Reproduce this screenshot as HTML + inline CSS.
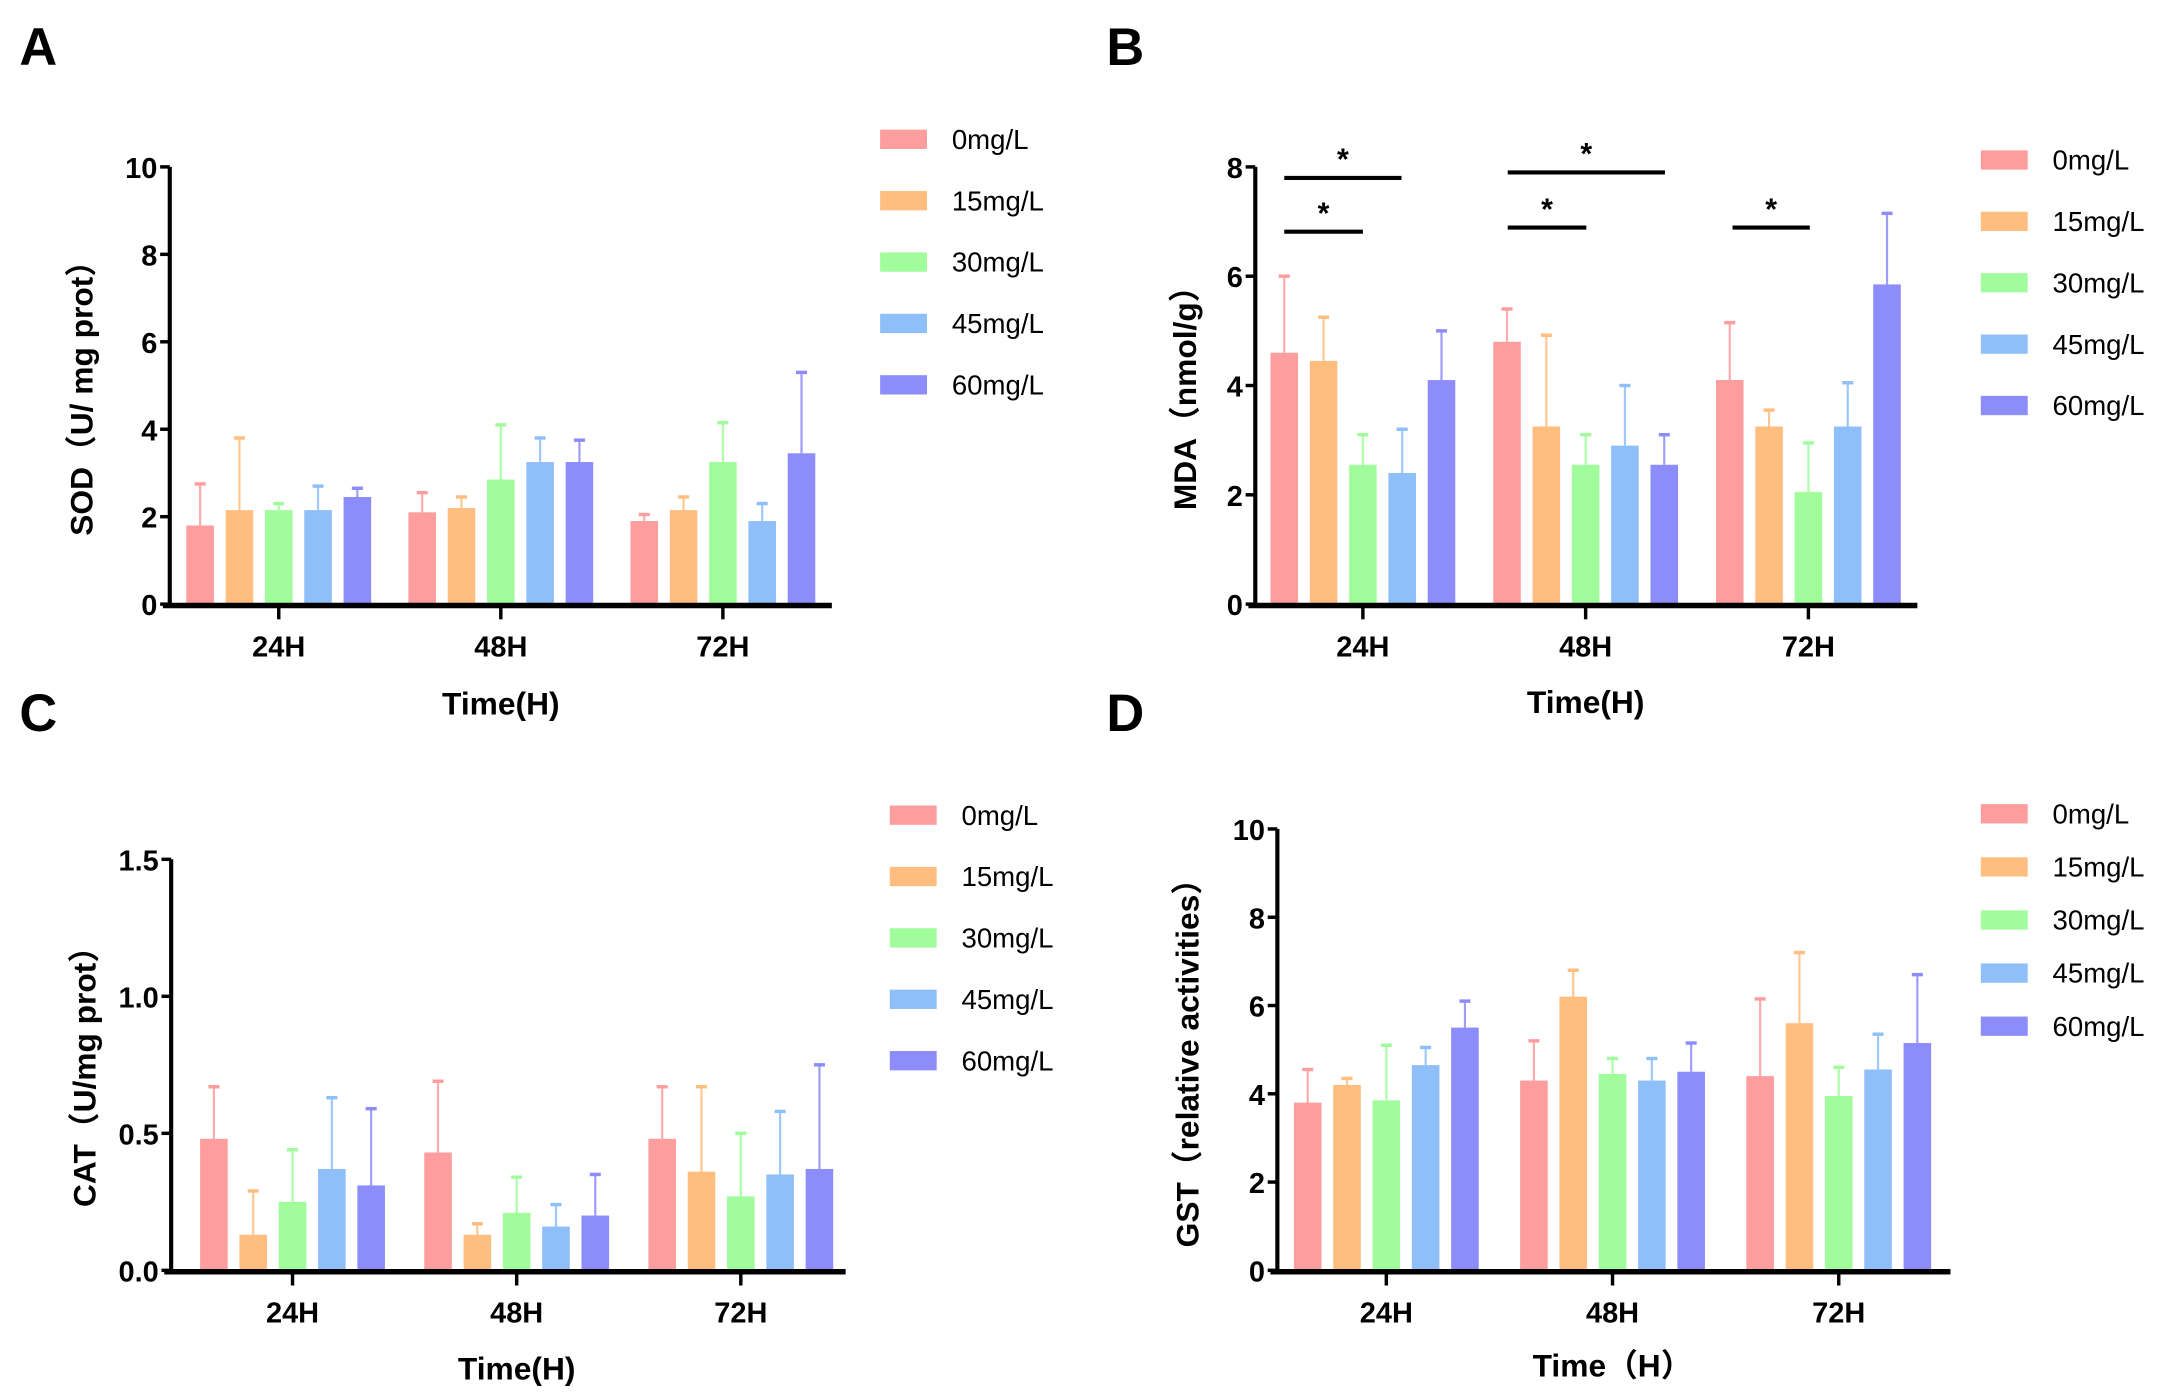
<!DOCTYPE html>
<html><head><meta charset="utf-8"><style>
html,body{margin:0;padding:0;background:#fff;}
svg{display:block;}
text{font-family:"Liberation Sans","Noto Sans CJK SC",sans-serif;}
.tk{font-size:21px;font-weight:bold;}
.lg{font-size:20px;}
.yl{font-family:"Liberation Sans","Noto Sans CJK SC",sans-serif;font-size:23px;font-weight:bold;}
.xt{font-size:23px;font-weight:bold;}
.pl{font-family:"Liberation Sans",sans-serif;font-size:38px;font-weight:bold;}
</style></head><body>
<svg id="fig" width="2163" height="1400" viewBox="0 0 1568 1015" xmlns="http://www.w3.org/2000/svg"></svg>
<script>
const categories = ["24H","48H","72H"];
const seriesNames = ["0mg/L","15mg/L","30mg/L","45mg/L","60mg/L"];
const colors = ["#fd9d9d","#ffbe80","#a1fd9c","#8fbff8","#8c8cfa"];
// SOD values [series][category]
const sodMean = [[1.8,2.1,1.9],[2.15,2.2,2.15],[2.15,2.85,3.25],[2.15,3.25,1.9],[2.45,3.25,3.45]];
const sodTop  = [[2.75,2.55,2.05],[3.8,2.45,2.45],[2.3,4.1,4.15],[2.7,3.8,2.3],[2.65,3.75,5.3]];
const sodTicks = [0,2,4,6,8,10];
// MDA
const mdaMean = [[4.6,4.8,4.1],[4.45,3.25,3.25],[2.55,2.55,2.05],[2.4,2.9,3.25],[4.1,2.55,5.85]];
const mdaTop  = [[6.0,5.4,5.15],[5.25,4.92,3.55],[3.1,3.1,2.95],[3.2,4.0,4.05],[5.0,3.1,7.15]];
const mdaTicks = [0,2,4,6,8];
// CAT
const catMean = [[0.48,0.43,0.48],[0.13,0.13,0.36],[0.25,0.21,0.27],[0.37,0.16,0.35],[0.31,0.20,0.37]];
const catTop  = [[0.67,0.69,0.67],[0.29,0.17,0.67],[0.44,0.34,0.50],[0.63,0.24,0.58],[0.59,0.35,0.75]];
const catTicks = ["0.0","0.5","1.0","1.5"];
// GST
const gstMean = [[3.8,4.3,4.4],[4.2,6.2,5.6],[3.85,4.45,3.95],[4.65,4.3,4.55],[5.5,4.5,5.15]];
const gstTop  = [[4.55,5.2,6.15],[4.35,6.8,7.2],[5.1,4.8,4.6],[5.05,4.8,5.35],[6.1,5.15,6.7]];
const gstTicks = [0,2,4,6,8,10];

const NS="http://www.w3.org/2000/svg";
const svg=document.getElementById('fig');
function mk(tag,attrs,parent,txt){const e=document.createElementNS(NS,tag);for(const k in attrs)e.setAttribute(k,attrs[k]);if(txt!==undefined)e.textContent=txt;(parent||svg).appendChild(e);return e;}

function panel(o){
  const g=mk('g',{});
  
  
  const ys=v=>o.y0-(v-o.ymin)/(o.ymax-o.ymin)*(o.y0-o.ytop);
  const gx=i=>o.gx0+i*o.gstep;
  const offs=[-57,-28.5,0,28.5,57], bw=20;
  for(let s=0;s<5;s++){for(let c=0;c<3;c++){
    const x=gx(c)+offs[s], v=o.mean[s][c], t=o.top[s][c];
    const eb=mk('line',{x1:x,x2:x,y1:ys(v),y2:ys(t),stroke:colors[s],'stroke-width':1.6,opacity:0.85},g);
    
    
    const cap=mk('line',{x1:x-4,x2:x+4,y1:ys(t),y2:ys(t),stroke:colors[s],'stroke-width':2.5},g);
    
    
    const r=mk('rect',{x:x-bw/2,y:ys(v),width:bw,height:o.y0-ys(v),fill:colors[s]},g);
    
    
  }}
  const ya=mk('line',{x1:o.ax,x2:o.ax,y1:o.ytop,y2:o.y0+2,stroke:'#000','stroke-width':3},g);
  
  
  const xa=mk('line',{x1:o.ax-5,x2:o.xend,y1:o.y0+1,y2:o.y0+1,stroke:'#000','stroke-width':4},g);
  
  
  o.ticks.forEach(t=>{const y=ys(parseFloat(t));
    mk('line',{x1:o.ax-7,x2:o.ax,y1:y,y2:y,stroke:'#000','stroke-width':2.5},g);
    const tl=mk('text',{x:o.ax-9,y:y+8,'text-anchor':'end',class:'tk'},g,String(t));
    
    
  });
  categories.forEach((c,i)=>{
    mk('line',{x1:gx(i),x2:gx(i),y1:o.y0,y2:o.y0+11,stroke:'#000','stroke-width':2.5},g);
    const tl=mk('text',{x:gx(i),y:o.y0+38,'text-anchor':'middle',class:'tk'},g,c);
    
    
  });
  const xt=mk('text',{x:gx(1),y:o.xty,'text-anchor':'middle',class:'xt'},g,o.xtitle);
  
  
  const yl=mk('text',{x:0,y:0,'text-anchor':'middle',class:'yl',transform:`translate(${o.ylx},${o.yly}) rotate(-90)`},g,o.ylabel);
  
  
  seriesNames.forEach((n,i)=>{
    const y=o.ly0+i*o.lstep;
    const sw=mk('rect',{x:o.lx,y:y-7,width:34,height:14,fill:colors[i]},g);
    
    
    const lt=mk('text',{x:o.lx+52,y:y+7,class:'lg'},g,n);
    
    
  });
  const pl=mk('text',{x:o.px,y:o.py,class:'pl'},g,o.letter);
  
  
  return g;
}
panel({name:'panel-a-sod',letter:'A',px:14,py:47,mean:sodMean,top:sodTop,ticks:sodTicks,ymin:0,ymax:10,y0:438,ytop:121,ax:123,xend:603,gx0:202,gstep:161,xtitle:'Time(H)',xty:518,ylabel:'SOD（U/ mg prot）',ylx:67,yly:283,lx:638,ly0:101,lstep:44.5});
const gB=panel({name:'panel-b-mda',letter:'B',px:802,py:47,mean:mdaMean,top:mdaTop,ticks:mdaTicks,ymin:0,ymax:8,y0:438,ytop:121,ax:910,xend:1390,gx0:988,gstep:161.5,xtitle:'Time(H)',xty:517,ylabel:'MDA（nmol/g）',ylx:867,yly:283,lx:1436,ly0:116,lstep:44.5});
panel({name:'panel-c-cat',letter:'C',px:14,py:530,mean:catMean,top:catTop,ticks:catTicks,ymin:0,ymax:1.5,y0:921,ytop:623,ax:124,xend:613,gx0:212,gstep:162.5,xtitle:'Time(H)',xty:1000,ylabel:'CAT（U/mg prot）',ylx:69,yly:775,lx:645,ly0:591,lstep:44.5});
panel({name:'panel-d-gst',letter:'D',px:802,py:530,mean:gstMean,top:gstTop,ticks:gstTicks,ymin:0,ymax:10,y0:921,ytop:601,ax:926,xend:1414,gx0:1005,gstep:164,xtitle:'Time（H）',xty:998,ylabel:'GST（relative activities）',ylx:869,yly:765,lx:1436,ly0:590,lstep:38.5});
const sigLines=[[931,1016,129],[931,988,168],[1093,1207,125],[1093,1150,165],[1256,1312,165]];
sigLines.forEach(s=>{
  const l=mk('line',{x1:s[0],x2:s[1],y1:s[2],y2:s[2],stroke:'#000','stroke-width':3},gB);
  
  
  const t=mk('text',{x:(s[0]+s[1])/2,y:s[2]-6,'text-anchor':'middle',style:'font-size:22px;font-weight:bold;font-family:Liberation Sans,sans-serif'},gB,'*');
  
  
});
</script>
</body></html>
